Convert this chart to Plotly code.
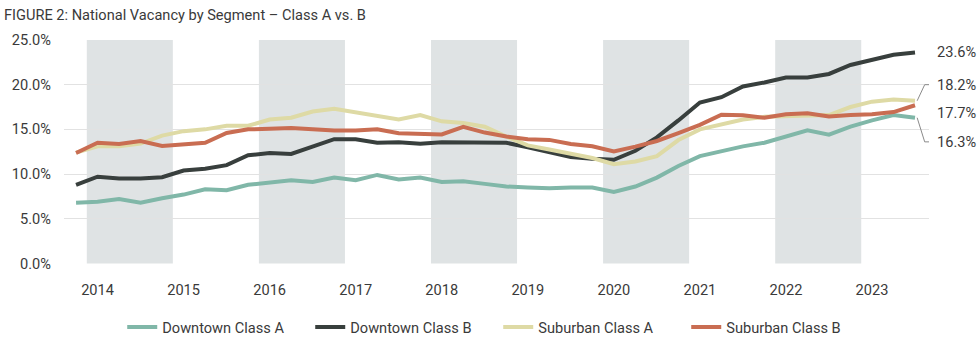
import plotly.graph_objects as go

# Quarterly periods, 2013 Q4 .. 2023 Q3
quarters = [f"{y} Q{q}" for y in range(2013, 2024) for q in range(1, 5)][3:3 + 40]
years = list(range(2014, 2024))
shaded_years = [2014, 2016, 2018, 2020, 2022]

downtown_a = [6.8, 6.9, 7.2, 6.8, 7.3, 7.7, 8.3, 8.2, 8.8, 9.1,
              9.3, 9.1, 9.6, 9.3, 9.9, 9.4, 9.6, 9.1, 9.2, 8.9,
              8.6, 8.5, 8.4, 8.5, 8.5, 8.0, 8.6, 9.6, 10.9, 12.0,
              12.6, 13.1, 13.5, 14.2, 14.9, 14.4, 15.3, 16.0, 16.6, 16.3]
downtown_b = [8.8, 9.7, 9.5, 9.5, 9.65, 10.4, 10.6, 11.0, 12.1, 12.35,
              12.25, 13.1, 13.9, 13.9, 13.5, 13.55, 13.4, 13.55, 13.55, 13.55,
              13.5, 13.0, 12.4, 11.9, 11.7, 11.6, 12.6, 14.1, 16.0, 18.0,
              18.6, 19.8, 20.25, 20.8, 20.8, 21.2, 22.2, 22.8, 23.35, 23.6]
suburban_a = [12.4, 13.1, 13.1, 13.4, 14.3, 14.8, 15.0, 15.4, 15.4, 16.1,
              16.3, 17.0, 17.3, 16.9, 16.4, 16.1, 16.6, 15.9, 15.7, 15.3,
              14.2, 13.2, 12.75, 12.3, 11.8, 11.1, 11.4, 12.0, 13.8, 15.0,
              15.5, 16.1, 16.4, 16.5, 16.5, 16.6, 17.5, 18.1, 18.35, 18.2]
suburban_b = [12.35, 13.5, 13.35, 13.7, 13.15, 13.35, 13.5, 14.6, 15.0, 15.07,
              15.14, 15.0, 14.86, 14.86, 15.0, 14.57, 14.46, 14.43, 15.29, 14.64,
              14.2, 13.9, 13.82, 13.36, 13.1, 12.54, 13.07, 13.7, 14.57, 15.5,
              16.64, 16.57, 16.3, 16.7, 16.8, 16.43, 16.6, 16.7, 16.93, 17.7]

series_names = ["Downtown Class A", "Downtown Class B", "Suburban Class A", "Suburban Class B"]
series_values = [downtown_a, downtown_b, suburban_a, suburban_b]
series_colors = ["#80b7a8", "#383f3d", "#dedaa5", "#c96d52"]
end_labels = ["16.3%", "23.6%", "18.2%", "17.7%"]
label_levels = [13.6, 23.7, 20.0, 16.8]   # vertical position of end labels (value units)
leader = [True, False, True, False]

FONT = "Roboto"
TXT = "#3a3a3a"
FS = 14.6

xs = list(range(len(quarters)))
fig = go.Figure()

for name, vals, col in zip(series_names, series_values, series_colors):
    fig.add_trace(go.Scatter(x=xs, y=vals, mode="lines", name=name,
                             line=dict(color=col, width=4), hoverinfo="skip"))

# leader lines from end points to labels
last = xs[-1]
for vals, lvl, has in zip(series_values, label_levels, leader):
    if has:
        fig.add_trace(go.Scatter(x=[last + 0.1, last + 0.45, last + 0.75],
                                 y=[vals[-1], lvl, lvl], mode="lines",
                                 line=dict(color="#8a8a8a", width=1),
                                 showlegend=False, hoverinfo="skip", cliponaxis=False))

for txt, lvl in zip(end_labels, label_levels):
    fig.add_annotation(x=1, xref="paper", y=lvl, yref="y", text=txt, showarrow=False,
                       xanchor="left", xshift=6, font=dict(family=FONT, size=FS, color=TXT))

# alternating year bands
q1_index = {int(q[:4]): i for i, q in enumerate(quarters) if q.endswith("Q1")}
for yr in shaded_years:
    i0 = q1_index[yr]
    fig.add_shape(type="rect", xref="x", yref="paper", x0=i0 - 0.5, x1=i0 + 3.5,
                  y0=0, y1=1, fillcolor="#dfe3e4", line=dict(width=0), layer="below")

fig.update_layout(
    width=980, height=346,
    margin=dict(l=60, r=51, t=40, b=72),
    paper_bgcolor="white", plot_bgcolor="white",
    font=dict(family=FONT, size=FS, color=TXT),
    title=dict(text="FIGURE 2: National Vacancy by Segment – Class A vs. B",
               x=4 / 980, xref="container", xanchor="left",
               y=1 - 15 / 346, yref="container", yanchor="middle",
               font=dict(family=FONT, size=FS, color=TXT)),
    legend=dict(orientation="h", x=0.502, xanchor="center", xref="paper",
                y=1 - 327 / 346, yref="container", yanchor="middle",
                font=dict(family=FONT, size=FS, color=TXT), itemwidth=30,
                entrywidth=143, entrywidthmode="pixels",
                bgcolor="rgba(0,0,0,0)"),
    showlegend=True,
)
fig.update_xaxes(range=[-0.56, 39.65], showgrid=False, zeroline=False, showline=False,
                 tickvals=[q1_index[y] for y in years], ticktext=[str(y) for y in years],
                 ticks="", ticklabelstandoff=16, tickfont=dict(family=FONT, size=FS, color=TXT))
fig.update_yaxes(range=[0, 25], dtick=5, tickformat=".1f", ticksuffix="%",
                 showgrid=True, gridcolor="#e2e2e2", gridwidth=1, zeroline=False,
                 showline=False, ticks="", ticklabelstandoff=12,
                 tickfont=dict(family=FONT, size=FS, color=TXT))

fig.write_html("out.html")
